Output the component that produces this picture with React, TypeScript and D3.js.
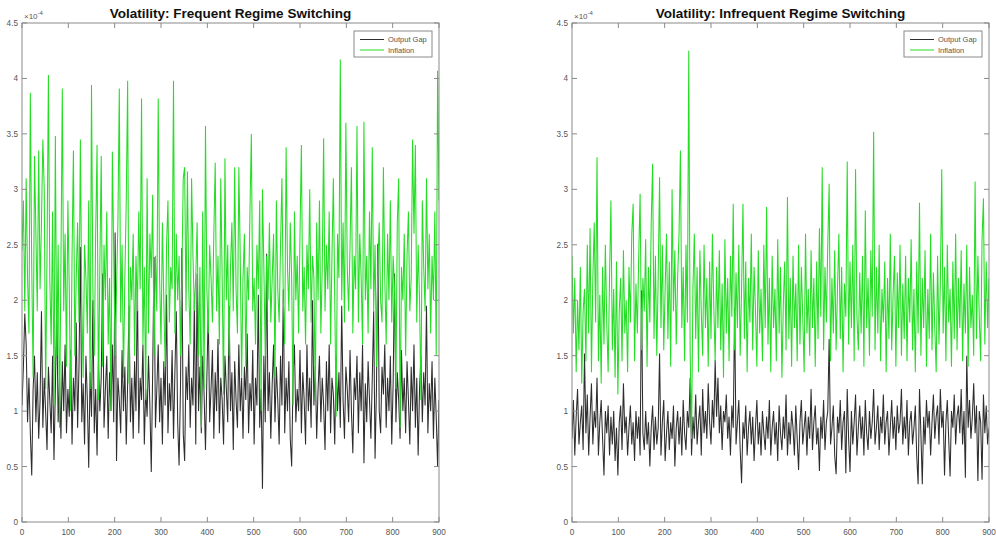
import React from 'react';
import * as d3 from 'd3';

// Values are in units of 1e-4, sampled every SAMPLE_STEP periods (0..900)
const SAMPLE_STEP = 3;
const X_TICKS = [0, 100, 200, 300, 400, 500, 600, 700, 800, 900];
const Y_TICKS = [0, 0.5, 1, 1.5, 2, 2.5, 3, 3.5, 4, 4.5];
const SERIES_NAMES = ['Output Gap', 'Inflation'];
const TITLES = ['Volatility: Frequent Regime Switching', 'Volatility: Infrequent Regime Switching'];

const freqInflation = [
  2.45, 2.9, 1.9, 3.1, 2.2, 1.7, 3.87, 2.3, 1.3, 3.3, 2.6, 1.9, 3.35, 2.1, 2.7, 3.45, 3.0, 1.2, 2.4, 4.03,
  2.2, 1.6, 2.8, 1.05, 3.48, 1.5, 2.5, 0.85, 2.3, 3.91, 1.9, 2.6, 1.4, 2.9, 2.1, 1.0, 2.4, 3.35, 1.5, 2.2,
  2.7, 1.8, 3.45, 2.0, 1.3, 2.5, 2.2, 1.7, 2.9, 1.2, 3.94, 2.1, 1.5, 2.6, 3.4, 1.1, 2.3, 3.3, 1.4, 2.5,
  2.0, 2.8, 1.6, 2.2, 1.0, 3.34, 2.4, 1.5, 2.1, 2.7, 3.91, 1.8, 2.5, 1.3, 2.2, 2.9, 3.98, 1.25, 2.3, 2.0,
  2.6, 1.5, 2.4, 1.9, 2.8, 2.1, 3.82, 1.6, 2.3, 1.1, 3.1, 1.7, 2.6, 2.2, 2.95, 1.5, 2.4, 1.9, 3.82, 2.2,
  1.6, 2.7, 2.0, 1.4, 2.5, 2.9, 1.8, 2.3, 2.1, 3.98, 1.7, 2.6, 2.0, 2.4, 1.5, 2.2, 3.1, 3.2, 1.9, 3.16,
  2.1, 1.6, 3.1, 2.4, 1.9, 2.2, 2.7, 1.5, 2.3, 0.85, 2.8, 1.2, 3.57, 2.1, 1.7, 2.5, 2.2, 1.8, 2.6, 3.24,
  1.9, 2.4, 1.6, 3.1, 2.2, 1.15, 3.28, 2.0, 2.5, 1.5, 2.3, 2.7, 1.9, 3.2, 2.1, 1.7, 3.2, 2.4, 1.3, 2.2,
  2.6, 1.4, 2.3, 2.0, 2.8, 3.5, 1.9, 2.2, 1.6, 2.5, 2.1, 2.9, 1.0, 3.0, 2.3, 1.5, 2.4, 2.0, 2.7, 1.8,
  2.2, 2.6, 1.3, 2.9, 2.1, 1.8, 2.5, 3.1, 2.0, 1.6, 3.38, 2.3, 1.9, 2.7, 2.2, 1.05, 2.8, 2.0, 2.4, 1.7,
  2.6, 3.4, 1.9, 2.3, 1.6, 2.5, 2.1, 3.0, 1.8, 2.4, 2.2, 1.1, 2.7, 2.0, 2.9, 1.7, 2.3, 3.46, 1.9, 2.5,
  2.1, 2.8, 1.6, 2.4, 3.1, 2.0, 0.95, 2.6, 2.2, 4.17, 2.0, 2.7, 1.8, 3.6, 2.3, 1.9, 2.5, 3.2, 1.7, 2.4,
  2.1, 3.57, 1.8, 2.6, 2.2, 1.6, 3.61, 2.0, 2.4, 1.7, 2.8, 2.1, 3.38, 1.9, 2.5, 1.4, 2.3, 2.7, 2.0, 1.8,
  3.2, 2.2, 1.6, 2.6, 2.0, 2.9, 1.8, 2.4, 2.1, 1.2, 2.7, 3.1, 0.85, 2.3, 2.0, 2.6, 1.5, 2.4, 2.8, 1.9,
  2.2, 3.45, 2.6, 3.4, 1.8, 2.5, 2.0, 1.1, 2.9, 2.3, 1.9, 3.1, 2.1, 2.6, 1.7, 2.4, 2.0, 2.8, 1.5, 4.07,
  2.9,
];

const freqOutputGap = [
  1.05, 1.4, 1.88, 1.6, 0.9, 1.3, 0.8, 0.42, 1.2, 1.5, 0.9, 1.35, 0.75, 1.1, 1.9, 0.85, 1.3, 1.0, 0.65, 1.4,
  1.1, 0.8, 1.5, 0.56, 1.2, 1.95, 0.9, 1.3, 0.75, 1.45, 1.0, 1.6, 0.8, 1.2, 0.95, 1.55, 0.7, 1.3, 1.0, 1.8,
  0.85, 1.4, 2.48, 0.9, 1.25, 0.7, 1.5, 1.1, 0.49, 1.35, 0.95, 2.0, 0.8, 1.2, 0.6, 1.45, 1.0, 1.3, 2.24, 0.85,
  1.2, 1.5, 0.75, 1.35, 1.0, 1.6, 0.9, 2.61, 0.55, 1.3, 1.1, 0.8, 1.55, 1.0, 1.4, 0.7, 1.25, 1.95, 0.9, 1.3,
  0.75, 1.45, 1.0, 2.15, 0.8, 1.3, 1.1, 1.6, 0.7, 1.2, 0.95, 1.5, 1.05, 0.45, 1.35, 2.39, 0.85, 1.2, 1.6, 0.9,
  1.3, 0.7, 1.45, 1.05, 2.05, 0.8, 1.25, 1.0, 1.55, 0.75, 1.35, 1.9, 0.9, 0.51, 1.2, 2.47, 0.8, 0.55, 1.4, 1.1,
  1.6, 0.85, 1.3, 1.05, 2.0, 0.7, 2.24, 1.0, 1.4, 0.8, 1.5, 1.15, 0.65, 1.3, 1.9, 0.9, 1.2, 1.55, 0.75, 1.35,
  1.0, 1.65, 0.8, 1.3, 1.1, 0.7, 1.5, 1.2, 0.9, 1.95, 1.0, 1.35, 0.65, 1.45, 1.1, 0.85, 1.6, 1.0, 1.3, 0.75,
  1.4, 1.1, 1.7, 0.8, 1.25, 1.0, 1.55, 0.7, 1.3, 1.05, 2.05, 0.85, 1.2, 0.3, 1.5, 0.9, 2.42, 1.0, 1.35, 0.75,
  1.25, 1.6, 0.9, 1.4, 1.1, 0.7, 1.5, 1.05, 2.1, 0.8, 1.3, 1.0, 1.45, 0.75, 0.5, 1.3, 1.6, 0.9, 1.2, 1.0,
  1.55, 0.8, 1.35, 1.1, 0.7, 1.6, 1.0, 1.3, 0.85, 2.0, 1.05, 1.4, 0.75, 1.2, 1.5, 0.9, 1.3, 1.05, 0.65, 1.45,
  1.0, 1.6, 0.8, 1.3, 1.15, 0.7, 1.5, 1.0, 1.35, 0.85, 1.95, 1.1, 0.75, 1.4, 1.2, 0.9, 1.55, 1.0, 0.62, 1.3,
  1.1, 1.5, 0.8, 1.35, 1.0, 1.6, 0.53, 1.25, 0.9, 1.45, 1.1, 0.75, 1.3, 1.9, 0.57, 1.2, 2.51, 1.0, 0.8, 1.4,
  1.15, 1.6, 0.85, 1.3, 1.0, 1.5, 0.7, 1.25, 2.24, 0.9, 1.35, 1.1, 0.75, 1.55, 1.0, 1.3, 0.8, 1.45, 1.1, 0.7,
  1.4, 1.0, 1.6, 0.85, 1.3, 0.6, 1.2, 1.5, 0.9, 1.35, 1.05, 1.95, 0.8, 1.25, 1.0, 1.45, 0.75, 1.3, 0.95, 0.5,
  1.1,
];

const infreqInflation = [
  2.4, 1.7, 2.2, 1.35, 2.0, 1.55, 2.3, 1.25, 1.9, 2.1, 1.45, 2.5, 1.7, 2.65, 1.35, 2.2, 2.7, 1.8, 3.29, 1.45,
  2.05, 1.25, 2.3, 1.6, 2.5, 1.8, 1.35, 2.2, 2.9, 1.55, 2.1, 1.3, 2.35, 1.15, 1.9, 2.2, 1.45, 2.45, 1.7, 2.0,
  1.35, 2.3, 1.8, 2.6, 2.87, 1.45, 2.15, 1.7, 2.4, 2.96, 1.55, 2.2, 1.9, 2.55, 1.4, 2.3, 1.8, 2.7, 3.23, 1.65,
  2.4, 1.5, 2.2, 3.11, 1.75, 2.5, 1.55, 2.1, 2.6, 1.65, 2.35, 1.4, 3.0, 1.9, 2.45, 1.6, 2.2, 2.6, 3.35, 1.75,
  2.3, 1.45, 2.5, 1.8, 4.25, 1.55, 0.75, 2.1, 2.6, 1.65, 2.3, 1.35, 2.45, 1.9, 1.5, 2.5, 1.75, 2.2, 1.4, 2.35,
  1.65, 2.6, 1.95, 1.45, 2.3, 1.75, 2.45, 1.55, 2.15, 1.3, 2.55, 1.7, 2.2, 1.45, 2.4, 1.85, 2.87, 1.55, 2.25, 1.75,
  2.5, 1.5, 2.1, 2.87, 1.65, 2.35, 1.35, 2.2, 1.8, 2.6, 1.55, 2.3, 1.9, 1.4, 2.45, 1.7, 2.1, 1.45, 2.5, 1.75,
  2.84, 1.6, 2.2, 1.35, 2.4, 1.75, 2.1, 1.45, 2.55, 1.7, 2.3, 1.3, 1.95, 2.35, 1.55, 2.93, 1.65, 2.2, 1.4, 2.4,
  1.75, 2.15, 1.45, 2.5, 1.6, 2.3, 1.85, 1.35, 2.6, 1.7, 2.1, 1.5, 2.45, 1.75, 2.2, 1.4, 2.35, 1.65, 2.65, 1.85,
  3.2, 1.55, 2.3, 1.8, 2.5, 3.05, 1.45, 2.2, 1.7, 2.45, 1.55, 2.1, 2.6, 1.65, 2.3, 1.35, 2.15, 1.85, 3.25, 1.6,
  2.35, 1.75, 2.5, 1.45, 3.18, 1.85, 1.55, 2.25, 1.7, 2.4, 1.4, 2.81, 1.75, 2.2, 1.5, 2.45, 1.85, 3.52, 1.55, 2.3,
  1.7, 2.5, 1.45, 2.1, 1.8, 2.35, 1.35, 2.2, 1.65, 2.6, 1.55, 2.05, 2.4, 1.4, 2.25, 1.75, 2.5, 1.5, 2.15, 1.65,
  2.4, 1.45, 2.2, 1.8, 2.55, 1.55, 2.1, 1.35, 2.35, 1.7, 2.88, 1.5, 2.2, 1.75, 2.45, 1.4, 2.1, 1.65, 2.6, 1.55,
  2.25, 1.75, 1.35, 2.4, 1.6, 2.15, 3.18, 1.7, 2.3, 1.45, 2.5, 1.8, 2.1, 1.4, 2.35, 1.65, 2.6, 1.55, 2.2, 1.75,
  2.45, 1.45, 2.15, 1.7, 2.5, 1.4, 2.3, 1.75, 2.05, 1.5, 3.07, 1.65, 2.4, 1.85, 1.45, 2.55, 2.92, 1.6, 2.35, 1.75,
  2.2,
];

const infreqOutputGap = [
  0.75, 1.1, 0.6, 0.95, 1.2, 0.7, 0.9, 1.05, 0.65, 1.52, 0.8, 1.15, 0.6, 0.95, 1.25, 0.7, 1.0, 0.85, 1.3, 0.6,
  0.9, 1.1, 0.75, 0.42, 1.0, 0.8, 1.05, 0.6, 0.95, 0.7, 1.0, 0.55, 0.85, 0.42, 0.9, 1.05, 0.65, 1.25, 0.8, 0.95,
  0.6, 0.85, 1.05, 0.7, 0.9, 0.55, 1.0, 0.75, 0.95, 0.6, 2.09, 0.8, 0.65, 1.0, 0.7, 0.9, 0.5, 0.85, 1.05, 0.65,
  0.95, 0.7, 0.85, 1.52, 0.6, 0.9, 1.1, 0.55, 0.8, 1.0, 0.65, 0.9, 0.75, 1.05, 0.5, 0.85, 1.0, 0.7, 0.95, 0.6,
  1.1, 0.8, 0.65, 1.0, 0.85, 1.3, 0.6, 0.95, 0.75, 1.15, 0.7, 0.9, 1.05, 0.6, 1.2, 0.8, 1.0, 0.75, 1.25, 0.9,
  0.7, 1.1, 0.85, 1.46, 0.95, 1.3, 0.8, 1.05, 0.65, 1.0, 0.9, 1.15, 0.75, 0.95, 0.6, 1.05, 0.85, 1.93, 0.7, 0.9,
  1.1, 0.65, 0.35, 0.9, 0.75, 1.05, 0.6, 0.85, 1.0, 0.7, 0.95, 0.55, 0.85, 1.1, 0.7, 0.9, 0.6, 1.0, 0.8, 0.65,
  0.95, 0.75, 1.1, 0.6, 0.85, 1.0, 0.7, 0.9, 0.55, 1.05, 0.8, 0.65, 0.95, 0.75, 1.15, 0.6, 0.9, 0.7, 1.0, 0.85,
  0.6, 1.05, 0.75, 0.47, 0.9, 1.1, 0.7, 0.85, 1.0, 0.6, 0.95, 0.75, 1.2, 0.65, 0.9, 1.05, 0.7, 0.85, 0.46, 0.95,
  0.75, 1.1, 0.65, 0.9, 1.0, 1.65, 0.7, 0.85, 1.05, 0.6, 0.43, 0.95, 0.8, 1.1, 0.65, 0.9, 1.0, 0.44, 1.2, 0.75,
  0.45, 1.0, 0.7, 0.9, 1.15, 0.6, 0.85, 1.05, 0.75, 0.95, 0.6, 1.1, 0.8, 0.65, 1.0, 0.75, 0.9, 1.2, 0.7, 0.85,
  1.05, 0.65, 0.95, 0.8, 1.15, 0.7, 0.9, 1.0, 0.6, 0.85, 1.1, 0.75, 0.95, 0.65, 1.05, 0.8, 0.9, 1.2, 0.7, 0.95,
  0.75, 1.1, 0.6, 0.9, 1.0, 0.7, 0.85, 1.05, 0.6, 0.34, 1.2, 0.8, 0.34, 0.95, 0.7, 1.1, 0.85, 1.0, 0.6, 0.9,
  1.15, 0.75, 0.95, 1.05, 0.7, 1.2, 0.85, 1.0, 0.42, 0.9, 1.1, 0.75, 0.41, 1.0, 0.85, 1.15, 0.7, 0.95, 1.05, 0.8,
  1.2, 0.7, 1.0, 0.4, 1.5, 0.85, 1.1, 0.75, 0.95, 1.25, 0.8, 1.05, 0.37, 1.0, 0.9, 0.38, 1.15, 0.8, 1.05, 0.7,
  0.85,
];

const GAP_COLOR = '#2e2e2e';
const INFL_COLOR = '#25dd25';
const AXIS_COLOR = '#8a8a8a';
const TEXT_COLOR = '#555';
const FONT = 'Liberation Sans, Arial, Helvetica, sans-serif';

const TOP = 23;
const BOTTOM = 522;

type PanelProps = { left: number; right: number; title: string; gap: number[]; infl: number[]; id: string };

function Panel({ left, right, title, gap, infl, id }: PanelProps) {
  const x = d3.scaleLinear().domain([0, 900]).range([left, right]);
  const y = d3.scaleLinear().domain([0, 4.5]).range([BOTTOM, TOP]);
  const line = d3
    .line<number>()
    .x((_, i) => x(i * SAMPLE_STEP))
    .y((d) => y(d));
  const tl = 5;
  const lx0 = right - 85;
  const ly0 = 31;
  return (
    <g>
      <defs>
        <clipPath id={id}>
          <rect x={left} y={TOP} width={right - left} height={BOTTOM - TOP} />
        </clipPath>
      </defs>
      <g clipPath={`url(#${id})`}>
        <path d={line(gap) || ''} fill="none" stroke={GAP_COLOR} strokeWidth={1.05} />
        <path d={line(infl) || ''} fill="none" stroke={INFL_COLOR} strokeWidth={1.05} />
      </g>
      <rect x={left} y={TOP} width={right - left} height={BOTTOM - TOP} fill="none" stroke={AXIS_COLOR} strokeWidth={1} />
      {X_TICKS.map((t) => (
        <g key={'x' + t}>
          <line x1={x(t)} x2={x(t)} y1={BOTTOM} y2={BOTTOM - tl} stroke={AXIS_COLOR} />
          <line x1={x(t)} x2={x(t)} y1={TOP} y2={TOP + tl} stroke={AXIS_COLOR} />
          <text x={x(t)} y={535} textAnchor="middle" fontSize={8.2} fill={TEXT_COLOR} fontFamily={FONT}>
            {t}
          </text>
        </g>
      ))}
      {Y_TICKS.map((t) => (
        <g key={'y' + t}>
          <line x1={left} x2={left + tl} y1={y(t)} y2={y(t)} stroke={AXIS_COLOR} />
          <line x1={right} x2={right - tl} y1={y(t)} y2={y(t)} stroke={AXIS_COLOR} />
          <text x={left - 4} y={y(t) + 3} textAnchor="end" fontSize={8.2} fill={TEXT_COLOR} fontFamily={FONT}>
            {String(t)}
          </text>
        </g>
      ))}
      <text x={left + 2} y={19} fontSize={8} fill={TEXT_COLOR} fontFamily={FONT}>
        ×10
        <tspan dy={-4} fontSize={6}>
          -4
        </tspan>
      </text>
      <text x={(left + right) / 2} y={18} textAnchor="middle" fontSize={13.5} fontWeight="bold" fill="#111" fontFamily={FONT}>
        {title}
      </text>
      <rect x={lx0} y={ly0} width={78} height={26} fill="#fff" stroke={AXIS_COLOR} strokeWidth={1} />
      <line x1={lx0 + 6} x2={lx0 + 30} y1={ly0 + 8.5} y2={ly0 + 8.5} stroke={GAP_COLOR} strokeWidth={1} />
      <line x1={lx0 + 6} x2={lx0 + 30} y1={ly0 + 19} y2={ly0 + 19} stroke={INFL_COLOR} strokeWidth={1} />
      <text x={lx0 + 34} y={ly0 + 11} fontSize={7.5} fill={TEXT_COLOR} fontFamily={FONT}>
        {SERIES_NAMES[0]}
      </text>
      <text x={lx0 + 34} y={ly0 + 21.5} fontSize={7.5} fill={TEXT_COLOR} fontFamily={FONT}>
        {SERIES_NAMES[1]}
      </text>
    </g>
  );
}

export default function App() {
  return (
    <svg
      width={996}
      height={540}
      viewBox="0 0 996 540"
      style={{ position: 'absolute', left: 0, top: 0, background: '#fff' }}
    >
      <rect x={0} y={0} width={996} height={540} fill="#fff" />
      <Panel left={22} right={439} title={TITLES[0]} gap={freqOutputGap} infl={freqInflation} id="clipL" />
      <Panel left={572} right={989} title={TITLES[1]} gap={infreqOutputGap} infl={infreqInflation} id="clipR" />
    </svg>
  );
}
